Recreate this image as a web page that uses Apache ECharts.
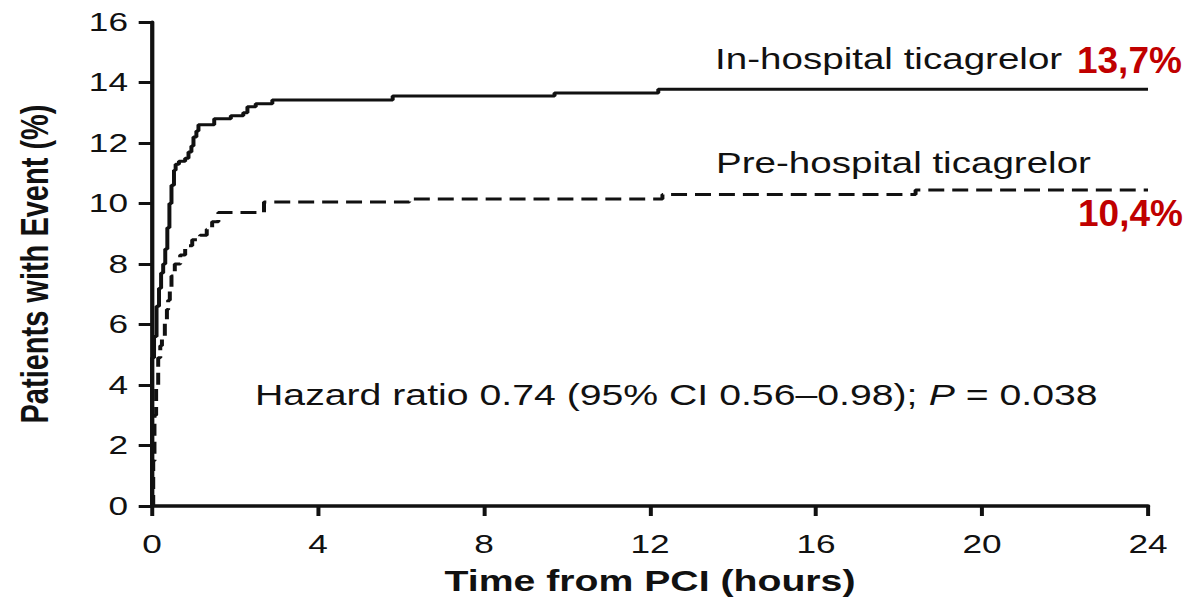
<!DOCTYPE html>
<html>
<head>
<meta charset="utf-8">
<script src="https://cdn.jsdelivr.net/npm/echarts@6/dist/echarts.min.js"></script>
<style>
  html, body { margin: 0; padding: 0; background: #fff; overflow: hidden; }
  #c { width: 892px; height: 601px; transform: scaleX(1.3296); transform-origin: 0 0; }
</style>
</head>
<body>
<div id="c"></div>
<script>
// ---- data (time in hours, cumulative event %) ----
const inHospitalTime  = [0, 0, 0.05, 0.11, 0.17, 0.22, 0.27, 0.32, 0.37, 0.42, 0.47, 0.53, 0.57, 0.65, 0.8, 0.88, 0.95, 1.0, 1.07, 1.12, 1.5, 1.9, 2.2, 2.3, 2.5, 2.9, 5.8, 9.7, 12.2, 24];
const inHospitalPct   = [0, 4.9, 5.6, 6.6, 7.2, 7.7, 8.0, 8.5, 9.2, 10.0, 10.6, 11.1, 11.3, 11.4, 11.5, 11.7, 11.9, 12.2, 12.4, 12.6, 12.8, 12.9, 13.0, 13.2, 13.3, 13.42, 13.55, 13.65, 13.78, 13.78];
const preHospitalTime = [0, 0.03, 0.06, 0.1, 0.15, 0.2, 0.24, 0.31, 0.36, 0.39, 0.43, 0.47, 0.55, 0.68, 0.8, 0.97, 1.16, 1.32, 1.45, 1.6, 2.7, 6.2, 12.3, 18.4, 24];
const preHospitalPct  = [0, 1.5, 3.0, 4.0, 4.9, 5.3, 5.6, 6.1, 6.5, 6.8, 7.2, 7.6, 8.0, 8.3, 8.6, 8.8, 8.95, 9.15, 9.4, 9.7, 10.05, 10.15, 10.3, 10.45, 10.45];
const xTicks = [0, 4, 8, 12, 16, 20, 24];
const yTicks = [0, 2, 4, 6, 8, 10, 12, 14, 16];
const seriesNames = ['In-hospital ticagrelor', 'Pre-hospital ticagrelor'];
const finalLabels = ['13,7%', '10,4%'];
const hazardText = 'Hazard ratio 0.74 (95% CI 0.56\u20130.98); ';
const pText = 'P';
const pValueText = ' = 0.038';
const xName = 'Time from PCI (hours)';
const yName = 'Patients with Event (%)';

const S = 1.3296; // horizontal stretch of the reference
const FONT = '"Liberation Sans", Arial, Helvetica, sans-serif';

const pair = (t, v) => t.map((x, i) => [x, v[i]]);

const chart = echarts.init(document.getElementById('c'), null, { renderer: 'svg', width: 892, height: 601 });
chart.setOption({
  animation: false,
  backgroundColor: '#fff',
  grid: { left: 114.3, right: 28.6, top: 22, bottom: 88, containLabel: false },
  xAxis: {
    type: 'value', min: 0, max: 24, interval: 4,
    name: xName, nameLocation: 'middle', nameGap: 60,
    nameTextStyle: { fontFamily: FONT, fontWeight: 'bold', fontSize: 29.5, color: '#111' },
    axisLine: { show: true, onZero: false, lineStyle: { color: '#111', width: 3.5 } },
    axisTick: { show: true, length: 10, lineStyle: { color: '#111', width: 3 } },
    axisLabel: { fontFamily: FONT, fontSize: 26.5, color: '#111', margin: 25,
      formatter: v => xTicks.includes(v) ? String(v) : '' },
    splitLine: { show: false }
  },
  yAxis: {
    type: 'value', min: 0, max: 16, interval: 2,
    name: yName, nameLocation: 'middle', nameGap: 74, nameRotate: 90,
    nameTextStyle: { fontFamily: FONT, fontWeight: 'bold', fontSize: 29, color: '#111' },
    axisLine: { show: true, lineStyle: { color: '#111', width: 3.2 } },
    axisTick: { show: true, length: 10, lineStyle: { color: '#111', width: 3 } },
    axisLabel: { fontFamily: FONT, fontSize: 26.5, color: '#111', margin: 18,
      formatter: v => yTicks.includes(v) ? String(v) : '' },
    splitLine: { show: false }
  },
  series: [
    {
      name: seriesNames[0], type: 'line', step: 'end', symbol: 'none',
      data: pair(inHospitalTime, inHospitalPct),
      lineStyle: { color: '#111', width: 3 }, z: 3
    },
    {
      name: seriesNames[1], type: 'line', step: 'end', symbol: 'none',
      data: pair(preHospitalTime, preHospitalPct),
      lineStyle: { color: '#111', width: 3, type: [12, 6] }, z: 3
    }
  ],
  graphic: [
    { type: 'text', left: 537.8, top: 44, style: { text: seriesNames[0], font: '29px ' + FONT, fill: '#111' } },
    { type: 'text', left: 538.5, top: 148, style: { text: seriesNames[1], font: '29px ' + FONT, fill: '#111' } },
    { type: 'text', left: 191.8, top: 380, style: {
        text: '{n|' + hazardText + '}{i|' + pText + '}{n|' + pValueText + '}',
        rich: {
          n: { fontFamily: FONT, fontSize: 29.5, fill: '#111', color: '#111' },
          i: { fontFamily: FONT, fontSize: 29.5, fontStyle: 'italic', fill: '#111', color: '#111' }
        }
    } },
    { type: 'text', x: 810, y: 60, scaleX: 1 / S, style: { text: finalLabels[0], font: 'bold 37px ' + FONT, fill: '#C00000', textAlign: 'left', textVerticalAlign: 'middle' } },
    { type: 'text', x: 810.8, y: 213, scaleX: 1 / S, style: { text: finalLabels[1], font: 'bold 37px ' + FONT, fill: '#C00000', textAlign: 'left', textVerticalAlign: 'middle' } }
  ]
});
</script>
</body>
</html>
